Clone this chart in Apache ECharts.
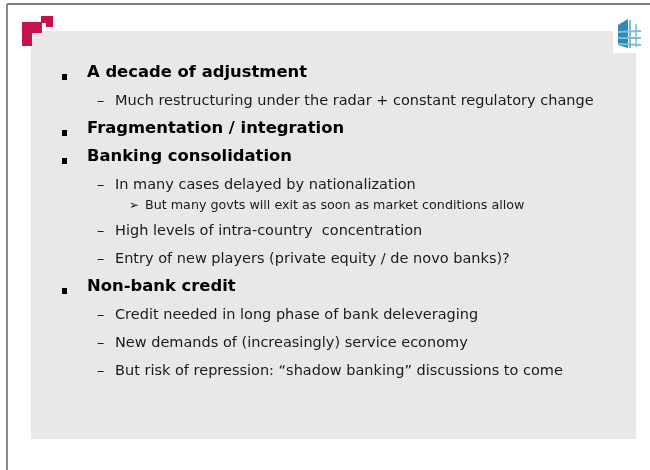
<!DOCTYPE html>
<html>
<head>
<meta charset="utf-8">
<script src="https://cdn.jsdelivr.net/npm/echarts@6/dist/echarts.min.js"></script>
<style>
  html, body { margin: 0; padding: 0; background: #fff; }
  #slide { width: 650px; height: 470px; }
</style>
</head>
<body>
<div id="slide"></div>
<script>
// slide outline: level 1 = bold heading, 2 = dash item, 3 = arrow item
const outlineLevels = [1, 2, 1, 1, 2, 3, 2, 2, 1, 2, 2, 2]
const outlineTexts = [
  'A decade of adjustment',
  'Much restructuring under the radar + constant regulatory change',
  'Fragmentation / integration',
  'Banking consolidation',
  'In many cases delayed by nationalization',
  'But many govts will exit as soon as market conditions allow',
  'High levels of intra-country  concentration',
  'Entry of new players (private equity / de novo banks)?',
  'Non-bank credit',
  'Credit needed in long phase of bank deleveraging',
  'New demands of (increasingly) service economy',
  'But risk of repression: \u201cshadow banking\u201d discussions to come'
]

const chart = echarts.init(document.getElementById('slide'), null, { renderer: 'canvas' })

const font = 'DejaVu Sans, Verdana, sans-serif'
const ink = '#000'
const body = '#1a1a1a'
const crimson = '#c4124b'
const steel = '#2c8cb5'
const pale = '#7dbbd6'

const elements = []

// frame + grey panel (notched at top right for the logo)
elements.push(
  { type: 'rect', shape: { x: 31, y: 31, width: 605, height: 408 }, style: { fill: '#e8e8e8' } },
  { type: 'rect', shape: { x: 613, y: 31, width: 23, height: 22 }, style: { fill: '#fff' } },
  { type: 'line', shape: { x1: 7, y1: 4, x2: 650, y2: 4 }, style: { stroke: '#808080', lineWidth: 2 } },
  { type: 'line', shape: { x1: 7, y1: 4, x2: 7, y2: 470 }, style: { stroke: '#8a8a8a', lineWidth: 2 } }
)

// left logo
elements.push(
  { type: 'rect', shape: { x: 22, y: 22, width: 20, height: 11 }, style: { fill: crimson } },
  { type: 'rect', shape: { x: 22, y: 22, width: 10, height: 24 }, style: { fill: crimson } },
  { type: 'rect', shape: { x: 41, y: 16, width: 12, height: 11 }, style: { fill: crimson } },
  { type: 'rect', shape: { x: 42, y: 23, width: 4, height: 4 }, style: { fill: '#fff' } }
)

// right logo (building)
elements.push(
  { type: 'polygon', shape: { points: [[618, 25], [628, 19], [628, 48], [618, 45]] }, style: { fill: steel } },
  { type: 'line', shape: { x1: 630, y1: 20, x2: 630, y2: 48 }, style: { stroke: pale, lineWidth: 2 } },
  { type: 'line', shape: { x1: 636, y1: 24, x2: 636, y2: 47 }, style: { stroke: pale, lineWidth: 1.5 } },
  { type: 'line', shape: { x1: 618, y1: 32, x2: 641, y2: 31 }, style: { stroke: pale, lineWidth: 2 } },
  { type: 'line', shape: { x1: 618, y1: 38, x2: 641, y2: 38 }, style: { stroke: pale, lineWidth: 2 } },
  { type: 'line', shape: { x1: 618, y1: 44, x2: 641, y2: 45 }, style: { stroke: pale, lineWidth: 2 } }
)

// outline text, stacked top to bottom
let y = 73
outlineTexts.forEach((text, i) => {
  const level = outlineLevels[i]
  if (i > 0) {
    const prev = outlineLevels[i - 1]
    y += level === 3 ? 21 : (prev === 3 ? 25 : 28)
  }
  if (level === 1) {
    elements.push(
      { type: 'rect', shape: { x: 62, y: y + 1, width: 5, height: 6 }, style: { fill: ink } },
      { type: 'text', x: 87, y: y, style: { text, fill: ink, font: 'bold 16.4px ' + font, verticalAlign: 'middle' } }
    )
  } else if (level === 2) {
    elements.push(
      { type: 'text', x: 97, y: y, style: { text: '\u2013', fill: body, font: '14.5px ' + font, verticalAlign: 'middle' } },
      { type: 'text', x: 115, y: y, style: { text, fill: body, font: '14.5px ' + font, verticalAlign: 'middle' } }
    )
  } else {
    elements.push(
      { type: 'text', x: 129, y: y, style: { text: '\u27a2', fill: body, font: '12px ' + font, verticalAlign: 'middle' } },
      { type: 'text', x: 145, y: y, style: { text, fill: body, font: '12.7px ' + font, verticalAlign: 'middle' } }
    )
  }
})

chart.setOption({
  animation: false,
  backgroundColor: '#fff',
  graphic: { elements }
})
</script>
</body>
</html>
